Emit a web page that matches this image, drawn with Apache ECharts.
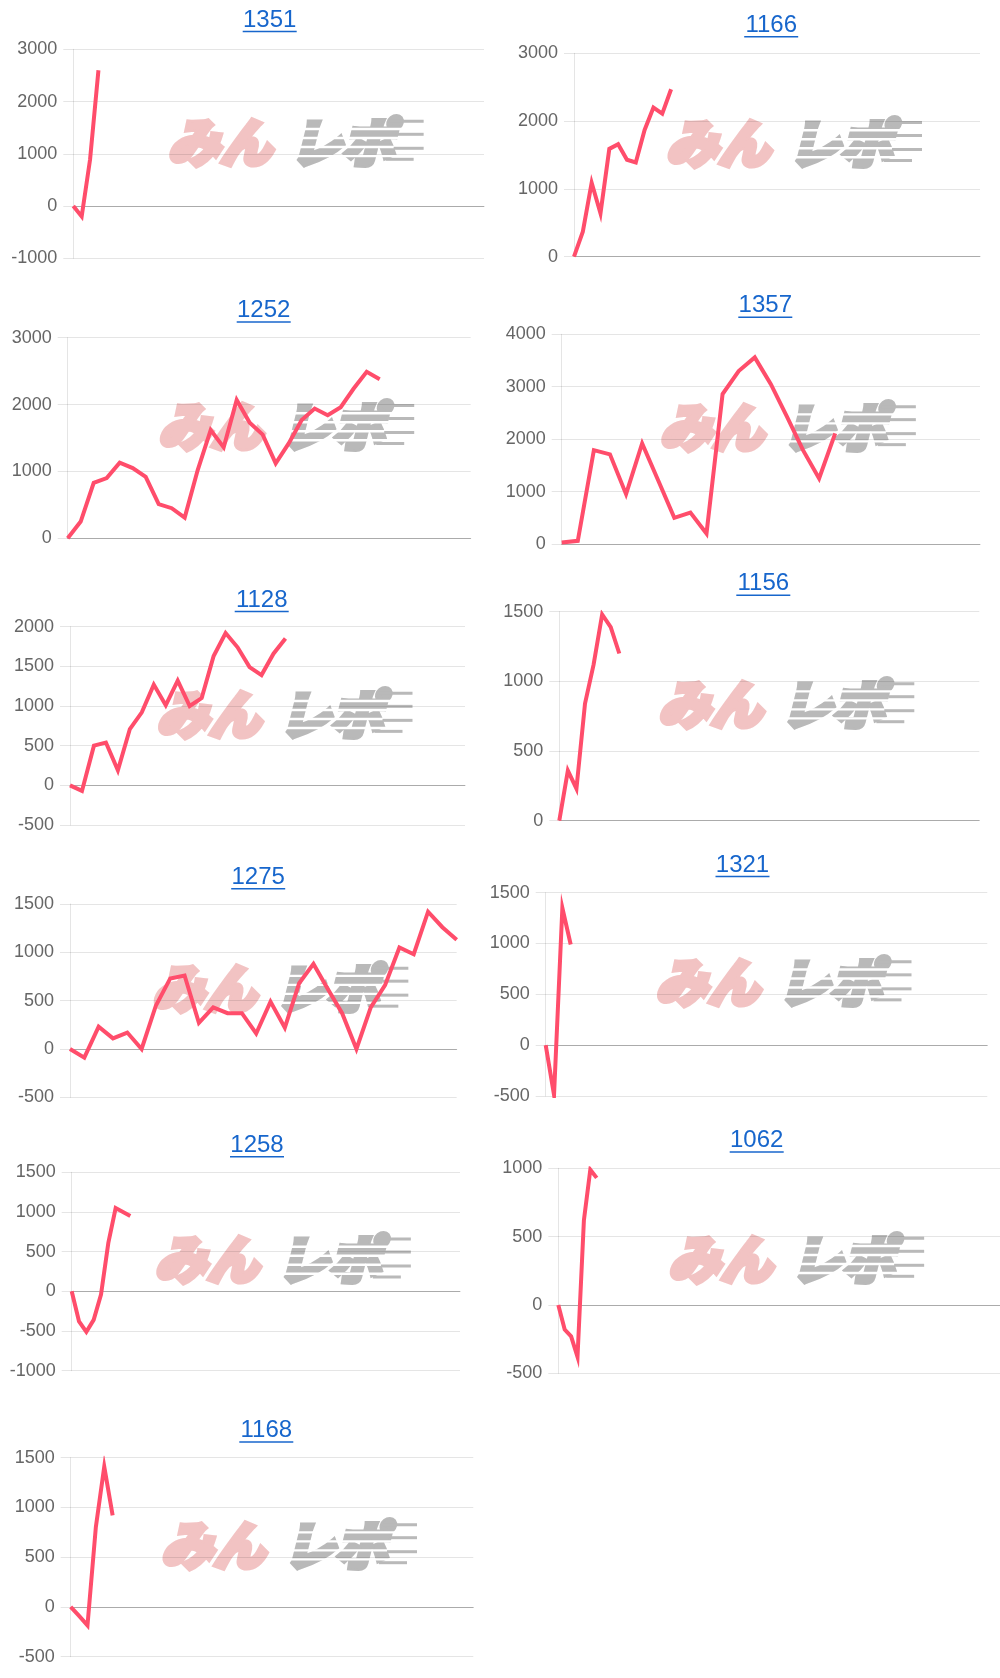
<!DOCTYPE html>
<html><head><meta charset="utf-8">
<script src="https://cdn.jsdelivr.net/npm/echarts@6/dist/echarts.min.js"></script>
<style>html,body{margin:0;padding:0;background:#fff}#c{width:1000px;height:1678px}</style>
</head><body><div id="c"></div>
<script>
// ---- data ----
const titles = ['1351','1166','1252','1357','1128','1156','1275','1321','1258','1062','1168'];
const v1351 = [0, -200, 890, 2600];
const v1166 = [0, 370, 1090, 640, 1590, 1660, 1430, 1390, 1870, 2200, 2110, 2470];
const v1252 = [0, 250, 830, 900, 1130, 1050, 920, 510, 450, 310, 1020, 1620, 1360, 2070, 1730, 1550, 1120, 1420, 1770, 1940, 1840, 1960, 2240, 2490, 2380];
const v1357 = [30, 60, 1790, 1710, 950, 1920, 1210, 500, 600, 200, 2860, 3300, 3560, 3050, 2430, 1790, 1250, 2110];
const v1128 = [0, -70, 500, 540, 190, 710, 920, 1270, 1010, 1320, 1000, 1100, 1630, 1920, 1740, 1490, 1390, 1660, 1850];
const v1156 = [0, 360, 230, 840, 1120, 1480, 1390, 1200];
const v1275 = [0, -90, 230, 110, 170, 0, 450, 730, 760, 270, 430, 370, 370, 160, 490, 220, 680, 880, 620, 370, 0, 430, 660, 1050, 980, 1420, 1260, 1130];
const v1321 = [0, -490, 1350, 990];
const v1258 = [0, -380, -510, -360, -40, 610, 1050, 1000, 950];
const v1062 = [0, -180, -230, -380, 620, 990, 930];
const v1168 = [0, -90, -185, 805, 1410, 920];
const seriesValues = [v1351, v1166, v1252, v1357, v1128, v1156, v1275, v1321, v1258, v1062, v1168];
const categoryCounts = [50, 47, 32, 27, 34, 50, 28, 54, 54, 70, 49];
const yMins = [-1000, 0, 0, 0, -500, 0, -500, -500, -1000, -500, -500];
const yMaxs = [3000, 3000, 3000, 4000, 2000, 1500, 1500, 1500, 1500, 1000, 1500];
const yIntervals = [1000, 1000, 1000, 1000, 500, 500, 500, 500, 500, 500, 500];

// ---- layout (plot box: left, right, top, bottom; title centre) ----
const layout = [
  {l:73.3, r:484, t:49.3, b:258.3, tx:269.7, ty:20},
  {l:574, r:980, t:53.3, b:256.7, tx:771.2, ty:25.3},
  {l:67.7, r:470.7, t:337.7, b:538.3, tx:263.7, ty:310.5},
  {l:561.7, r:980, t:334.3, b:544, tx:765.3, ty:305.8},
  {l:70, r:465, t:626.7, b:825, tx:261.7, ty:600},
  {l:559.3, r:979.3, t:611.7, b:820.7, tx:763.3, ty:583.8},
  {l:70, r:456.7, t:904, b:1097.3, tx:258.2, ty:877.2},
  {l:545.7, r:987.3, t:892.7, b:1096, tx:742.5, ty:865},
  {l:71.7, r:460, t:1172.3, b:1370.7, tx:257, ty:1145.3},
  {l:558.3, r:1000, t:1168.3, b:1373.3, tx:756.7, ty:1140.5},
  {l:70.7, r:473.3, t:1457.7, b:1656.7, tx:266.3, ty:1430.5}
];

const FONT = '"Liberation Sans", Arial, Helvetica, sans-serif';
const LINK = '#1766cc';
const PINK = '#f2c3c3';
const GREY = '#b9b9b9';
const grids = [], xAxes = [], yAxes = [], series = [], graphic = [];

layout.forEach((p, i) => {
  grids.push({left:p.l, top:p.t, width:p.r - p.l, height:p.b - p.t, containLabel:false});
  const cats = [];
  for (let k = 0; k < categoryCounts[i]; k++) cats.push(String(k));
  xAxes.push({
    gridIndex:i, type:'category', boundaryGap:false, data:cats,
    axisLabel:{show:false}, axisTick:{show:false}, splitLine:{show:false},
    axisLine:{show:true, onZero:true, lineStyle:{color:'rgba(0,0,0,0.25)', width:1}}
  });
  yAxes.push({
    gridIndex:i, type:'value', min:yMins[i], max:yMaxs[i], interval:yIntervals[i],
    axisLine:{show:true, lineStyle:{color:'rgba(0,0,0,0.1)'}},
    axisTick:{show:true, length:10, lineStyle:{color:'rgba(0,0,0,0.1)'}},
    splitLine:{show:true, lineStyle:{color:'rgba(0,0,0,0.1)'}},
    axisLabel:{margin:16, fontSize:18, color:'#666', fontFamily:FONT, formatter:v => String(v)}
  });
  series.push({
    type:'line', xAxisIndex:i, yAxisIndex:i, data:seriesValues[i],
    symbol:'none', z:5, animation:false,
    lineStyle:{color:'#ff4d6b', width:4, join:'miter'}
  });
  // title with underline
  graphic.push({
    type:'text', x:p.tx, y:p.ty, z:10,
    style:{text:titles[i], font:'24px ' + FONT, fill:LINK,
      align:'center', verticalAlign:'middle', textAlign:'center', textVerticalAlign:'middle'}
  });
  graphic.push({
    type:'line', z:10,
    shape:{x1:p.tx - 27, y1:p.ty + 11.5, x2:p.tx + 27, y2:p.ty + 11.5},
    style:{stroke:LINK, lineWidth:1.5}
  });
  // watermark logo
  const cx = (p.l + p.r) / 2 + 19, cy = (p.t + p.b) / 2 - 13;
  const kids = [
    {type:'text', x:-130, y:1, style:{text:'みん', font:'italic 900 52px "Noto Sans CJK JP"',
      fill:PINK, stroke:PINK, lineWidth:5, lineJoin:'round',
      align:'left', verticalAlign:'middle', textAlign:'left', textVerticalAlign:'middle'}},
    {type:'text', x:-8, y:1, style:{text:'レポ', font:'italic 900 52px "Noto Sans CJK JP"',
      fill:GREY, stroke:GREY, lineWidth:5, lineJoin:'round',
      align:'left', verticalAlign:'middle', textAlign:'left', textVerticalAlign:'middle'}}
  ];
  [-13, -4, 5, 14].forEach(dy => {
    kids.push({type:'rect', shape:{x:-10, y:dy, width:140, height:2.4}, style:{fill:'#fff'}});
  });
  [[-21, 92, 34], [-8, 100, 26], [6, 96, 30], [17, 88, 28]].forEach(s => {
    kids.push({type:'rect', shape:{x:s[1], y:s[0], width:s[2], height:3}, style:{fill:GREY}});
  });
  graphic.push({type:'group', x:cx, y:cy, z:1, children:kids});
});

const chart = echarts.init(document.getElementById('c'), null, {renderer:'canvas'});
chart.setOption({
  animation:false,
  backgroundColor:'#fff',
  grid:grids, xAxis:xAxes, yAxis:yAxes, series:series, graphic:graphic
});
</script>
</body></html>
